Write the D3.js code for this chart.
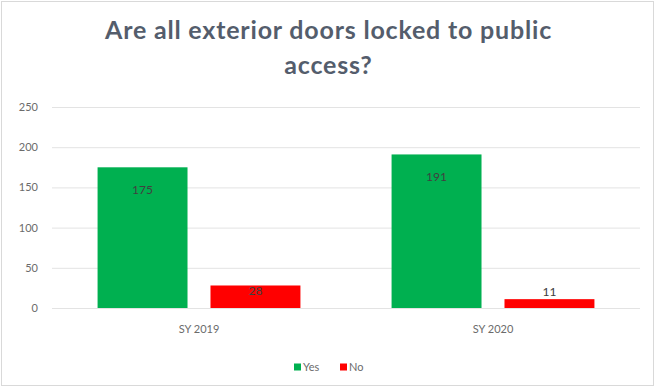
<!DOCTYPE html>
<html>
<head>
<meta charset="utf-8">
<script src="https://cdn.jsdelivr.net/npm/d3@7"></script>
<style>
  html, body { margin: 0; padding: 0; background: #fff; }
  svg { display: block; }
</style>
</head>
<body>
<svg id="chart" width="656" height="388"></svg>
<script>
// Survey answers per school year
const categories = ["SY 2019", "SY 2020"];
const seriesNames = ["Yes", "No"];
const yesValues = [175, 191];
const noValues = [28, 11];
const yTicks = [0, 50, 100, 150, 200, 250];
const titleLines = ["Are all exterior doors locked to public", "access?"];
const seriesColors = ["#00b050", "#ff0000"];

const W = 656, H = 388;
const plot = { left: 52, right: 640, top: 107, bottom: 308 };
const font = "Lato, 'Open Sans', sans-serif";

const svg = d3.select("#chart");

// outer frame of the chart
svg.append("rect")
  .attr("x", 1.5).attr("y", 1.5)
  .attr("width", W - 4).attr("height", H - 4)
  .attr("fill", "#fff").attr("stroke", "#d9d9d9");

// title, two centred lines; a little letter spacing widens the first line to ~447px
const title = svg.append("g");
titleLines.forEach((line, i) => {
  title.append("text")
    .attr("x", 328.5).attr("y", 39 + i * 35)
    .attr("text-anchor", "middle")
    .attr("font-family", font)
    .attr("font-weight", 700)
    .attr("font-size", 25)
    .attr("fill", "#545d6c")
    .text(line);
});
const first = title.select("text").node();
const extra = (447 - first.getComputedTextLength()) / titleLines[0].length;
title.selectAll("text").attr("letter-spacing", Math.max(0, extra));

// scales
const x0 = d3.scaleBand().domain(categories)
  .range([plot.left, plot.right])
  .paddingInner(0.31).paddingOuter(0.155);
const x1 = d3.scaleBand().domain(seriesNames)
  .range([0, x0.bandwidth()])
  .paddingInner(0.2035).paddingOuter(0);
const y = d3.scaleLinear().domain([0, 250]).range([plot.bottom, plot.top]);

// horizontal gridlines and y tick labels
const yAxis = d3.axisLeft(y).tickValues(yTicks).tickSize(-(plot.right - plot.left)).tickPadding(14);
const gy = svg.append("g").attr("transform", `translate(${plot.left},0)`).call(yAxis);
gy.select(".domain").remove();
gy.selectAll(".tick line").attr("stroke", "#e3e3e3").attr("stroke-width", 1);
gy.selectAll(".tick text")
  .attr("font-family", font).attr("font-size", 11).attr("fill", "#6b6b6b");

// category labels
const xAxis = d3.axisBottom(x0).tickSize(0).tickPadding(17);
const gx = svg.append("g").attr("transform", `translate(0,${plot.bottom})`).call(xAxis);
gx.select(".domain").remove();
gx.selectAll(".tick text")
  .attr("font-family", font).attr("font-size", 11).attr("fill", "#6b6b6b");

// bars
const rows = categories.map((c, i) => ({
  category: c,
  values: [
    { series: "Yes", value: yesValues[i], color: seriesColors[0] },
    { series: "No", value: noValues[i], color: seriesColors[1] }
  ]
}));

const groups = svg.append("g").selectAll("g").data(rows).join("g")
  .attr("transform", d => `translate(${x0(d.category)},0)`);

groups.selectAll("rect").data(d => d.values).join("rect")
  .attr("x", d => x1(d.series))
  .attr("y", d => y(d.value))
  .attr("width", x1.bandwidth())
  .attr("height", d => y(0) - y(d.value))
  .attr("fill", d => d.color);

// value labels: inside the top of tall bars, above very short ones
groups.selectAll("text.val").data(d => d.values).join("text")
  .attr("class", "val")
  .attr("x", d => x1(d.series) + x1.bandwidth() / 2)
  .attr("y", d => {
    const top = y(d.value), h = y(0) - top;
    if (h > 40) return top + 22;
    if (h > 15) return top + 5;
    return top - 7;
  })
  .attr("dy", "0.35em")
  .attr("text-anchor", "middle")
  .attr("font-family", font)
  .attr("font-size", 12)
  .attr("fill", "#404040")
  .text(d => d.value);

// legend
const legend = svg.append("g").attr("transform", "translate(294,367)");
const items = [
  { name: seriesNames[0], color: seriesColors[0], x: 0 },
  { name: seriesNames[1], color: seriesColors[1], x: 46 }
];
items.forEach(it => {
  legend.append("rect").attr("x", it.x).attr("y", -3.5)
    .attr("width", 7).attr("height", 7).attr("fill", it.color);
  legend.append("text").attr("x", it.x + 9).attr("y", 0).attr("dy", "0.35em")
    .attr("font-family", font).attr("font-size", 11).attr("fill", "#6b6b6b")
    .text(it.name);
});
</script>
</body>
</html>
